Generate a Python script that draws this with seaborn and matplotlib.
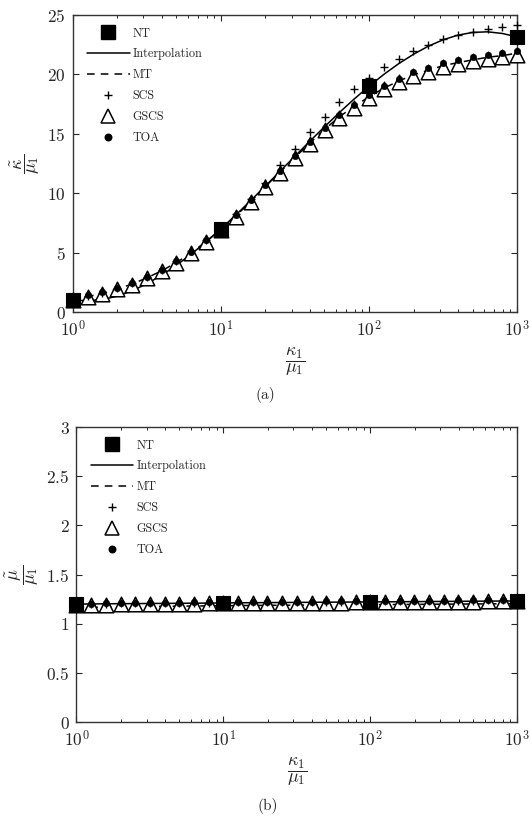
import matplotlib
matplotlib.use("Agg")
import matplotlib.pyplot as plt
import seaborn as sns
import pandas as pd
from matplotlib.lines import Line2D

# kappa_1 / mu_1 grid (10 points per decade)
ratio = [1, 1.259, 1.585, 1.995, 2.512, 3.162, 3.981, 5.012, 6.310, 7.943,
         10, 12.59, 15.85, 19.95, 25.12, 31.62, 39.81, 50.12, 63.10, 79.43,
         100, 125.9, 158.5, 199.5, 251.2, 316.2, 398.1, 501.2, 631.0, 794.3, 1000]
nt_ratio = [1, 10, 100, 1000]

# (a) effective bulk modulus
nt_a = [1.0, 7.0, 19.0, 23.15]
interp_a = [1.0, 0.96, 1.05, 1.34, 1.79, 2.38, 3.10, 3.94, 4.88, 5.90,
            7.00, 8.16, 9.37, 10.60, 11.86, 13.12, 14.37, 15.60, 16.79, 17.93,
            19.00, 20.00, 20.90, 21.69, 22.37, 22.91, 23.30, 23.53, 23.58, 23.44, 23.15]
mt_a = [1.0, 1.30, 1.57, 1.95, 2.35, 2.88, 3.47, 4.17, 4.98, 5.94,
        6.97, 8.08, 9.28, 10.56, 11.79, 13.02, 14.22, 15.37, 16.44, 17.30,
        18.12, 18.84, 19.44, 19.96, 20.35, 20.73, 20.99, 21.22, 21.44, 21.58, 21.78]
scs_a = [1.05, 1.38, 1.62, 2.02, 2.42, 2.95, 3.55, 4.27, 5.10, 6.10,
         7.15, 8.25, 9.50, 10.90, 12.39, 13.73, 15.11, 16.45, 17.68, 18.78,
         19.70, 20.60, 21.30, 22.00, 22.51, 22.95, 23.35, 23.54, 23.79, 23.96, 24.13]
gscs_a = [1.0, 1.30, 1.55, 1.93, 2.32, 2.84, 3.43, 4.12, 4.93, 5.88,
          6.90, 8.02, 9.22, 10.50, 11.72, 12.94, 14.14, 15.28, 16.35, 17.20,
          18.02, 18.74, 19.34, 19.86, 20.24, 20.62, 20.88, 21.10, 21.32, 21.45, 21.64]
toa_a = [1.10, 1.40, 1.65, 2.05, 2.44, 2.97, 3.56, 4.26, 5.07, 6.03,
         7.06, 8.18, 9.39, 10.68, 11.91, 13.14, 14.35, 15.50, 16.59, 17.46,
         18.30, 19.03, 19.65, 20.18, 20.57, 20.96, 21.22, 21.44, 21.67, 21.80, 22.00]

# (b) effective shear modulus
nt_b = [1.205, 1.215, 1.223, 1.232]
interp_b = [1.200, 1.201, 1.203, 1.204, 1.205, 1.206, 1.207, 1.208, 1.209, 1.210,
            1.212, 1.213, 1.214, 1.215, 1.216, 1.217, 1.218, 1.219, 1.220, 1.221,
            1.222, 1.223, 1.224, 1.225, 1.226, 1.227, 1.228, 1.229, 1.230, 1.231, 1.232]
mt_b = [1.165, 1.167, 1.169, 1.171, 1.173, 1.175, 1.177, 1.179, 1.180, 1.182,
        1.183, 1.185, 1.186, 1.187, 1.188, 1.189, 1.190, 1.191, 1.192, 1.193,
        1.194, 1.195, 1.196, 1.197, 1.198, 1.199, 1.200, 1.201, 1.202, 1.203, 1.205]
scs_b = [1.200, 1.202, 1.204, 1.206, 1.208, 1.210, 1.212, 1.213, 1.215, 1.216,
         1.218, 1.219, 1.220, 1.221, 1.222, 1.223, 1.224, 1.225, 1.226, 1.228,
         1.229, 1.230, 1.231, 1.232, 1.233, 1.234, 1.235, 1.236, 1.237, 1.238, 1.239]
gscs_b = [1.190, 1.192, 1.194, 1.196, 1.198, 1.200, 1.202, 1.203, 1.205, 1.206,
          1.208, 1.209, 1.210, 1.211, 1.212, 1.213, 1.214, 1.215, 1.216, 1.218,
          1.219, 1.220, 1.221, 1.222, 1.223, 1.224, 1.225, 1.226, 1.227, 1.228, 1.229]
toa_b = [1.202, 1.204, 1.206, 1.208, 1.210, 1.212, 1.214, 1.215, 1.217, 1.218,
         1.220, 1.221, 1.222, 1.223, 1.224, 1.225, 1.226, 1.227, 1.228, 1.230,
         1.231, 1.232, 1.233, 1.234, 1.235, 1.236, 1.237, 1.238, 1.239, 1.240, 1.241]

labels = ["NT", "Interpolation", "MT", "SCS", "GSCS", "TOA"]

sns.set_style("ticks")
plt.rcParams["font.family"] = ["cmr10", "DejaVu Serif"]
plt.rcParams["mathtext.fontset"] = "cm"
plt.rcParams["axes.formatter.use_mathtext"] = True
plt.rcParams["xtick.direction"] = "in"
plt.rcParams["ytick.direction"] = "in"


def draw_panel(ax, nt, interp, mt, scs, gscs, toa, yticks, ylim, ylab):
    curves = pd.DataFrame({"ratio": ratio, "interp": interp, "mt": mt,
                           "scs": scs, "gscs": gscs, "toa": toa})
    ntdf = pd.DataFrame({"ratio": nt_ratio, "nt": nt})

    sns.lineplot(data=curves, x="ratio", y="interp", ax=ax, color="black", lw=1.1)
    sns.lineplot(data=curves, x="ratio", y="mt", ax=ax, color="black", lw=1.1,
                 dashes=False, linestyle=(0, (5, 4)))
    sns.scatterplot(data=curves, x="ratio", y="gscs", ax=ax, marker="^", s=110,
                    facecolor="white", edgecolor="black", linewidth=1.1,
                    zorder=3, clip_on=False)
    sns.scatterplot(data=curves, x="ratio", y="toa", ax=ax, marker="o", s=22,
                    color="black", edgecolor="black", zorder=4, clip_on=False)
    sns.scatterplot(data=curves, x="ratio", y="scs", ax=ax, marker="+", s=40,
                    color="black", linewidth=1.0, zorder=4, clip_on=False)
    sns.scatterplot(data=ntdf, x="ratio", y="nt", ax=ax, marker="s", s=100,
                    color="black", edgecolor="black", zorder=5, clip_on=False)

    ax.set_xscale("log")
    ax.set_xlim(1, 1000)
    ax.set_ylim(*ylim)
    ax.set_xticks([1, 10, 100, 1000])
    ax.set_xticklabels([r"$10^{0}$", r"$10^{1}$", r"$10^{2}$", r"$10^{3}$"])
    ax.set_yticks(yticks)
    ax.set_yticklabels(["$%g$" % v for v in yticks])
    ax.tick_params(which="both", top=True, right=True, labelsize=12.5, pad=5)
    ax.tick_params(which="major", length=4, width=0.8)
    ax.tick_params(which="minor", length=2.2, width=0.7)
    for sp in ax.spines.values():
        sp.set_linewidth(1.0)
        sp.set_color("#333333")

    ax.set_xlabel(r"$\dfrac{\kappa_1}{\mu_1}$", fontsize=13, labelpad=4)
    ax.set_ylabel(ylab, fontsize=13, labelpad=4)

    handles = [
        Line2D([], [], ls="none", marker="s", ms=9.8, color="black"),
        Line2D([], [], color="black", lw=1.1),
        Line2D([], [], color="black", lw=1.1, ls=(0, (5, 4))),
        Line2D([], [], ls="none", marker="+", ms=6, mew=1.0, color="black"),
        Line2D([], [], ls="none", marker="^", ms=10, mfc="white", mec="black", mew=1.1),
        Line2D([], [], ls="none", marker="o", ms=4.7, color="black"),
    ]
    ax.legend(handles, labels, loc="upper left", frameon=False, fontsize=8.8,
              handlelength=3.5, handletextpad=0.25, labelspacing=0.72,
              borderaxespad=0.0, borderpad=0.0, bbox_to_anchor=(0.032, 0.958))


fig = plt.figure(figsize=(5.31, 8.30), dpi=100)
ax1 = fig.add_axes([0.137, 0.624, 0.837, 0.358])
ax2 = fig.add_axes([0.144, 0.130, 0.830, 0.3555])

draw_panel(ax1, nt_a, interp_a, mt_a, scs_a, gscs_a, toa_a,
           [0, 5, 10, 15, 20, 25], (0, 25), r"$\dfrac{\tilde{\kappa}}{\mu_1}$")
draw_panel(ax2, nt_b, interp_b, mt_b, scs_b, gscs_b, toa_b,
           [0, 0.5, 1, 1.5, 2, 2.5, 3], (0, 3), r"$\dfrac{\tilde{\mu}}{\mu_1}$")

fig.text(0.5, 1 - 395 / 830, "(a)", ha="center", va="center", fontsize=11)
fig.text(0.505, 1 - 806 / 830, "(b)", ha="center", va="center", fontsize=11)

fig.savefig("out.png", dpi=100)
